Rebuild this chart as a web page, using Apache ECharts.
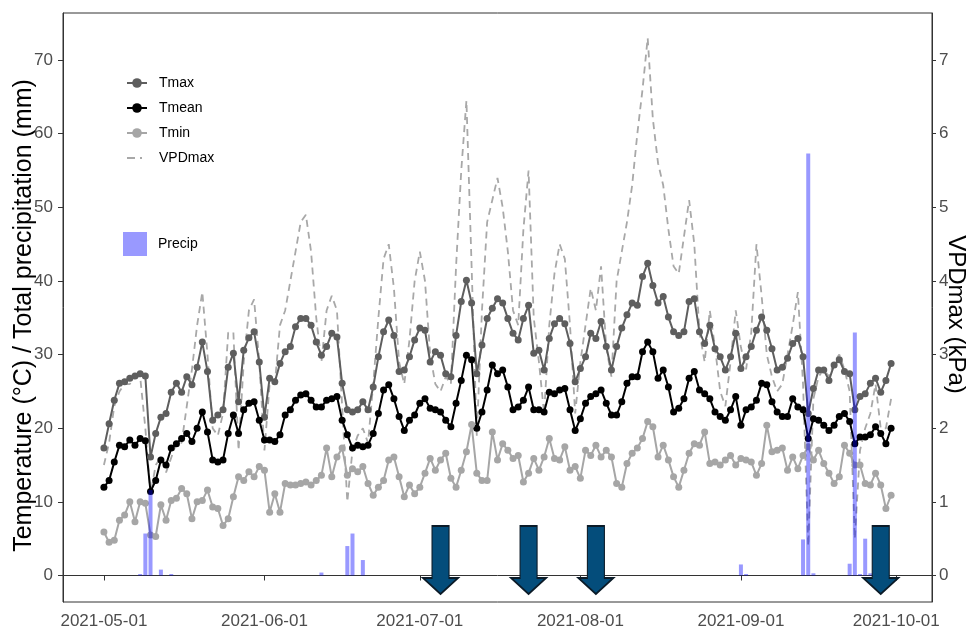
<!DOCTYPE html>
<html lang="en">
<head>
<meta charset="UTF-8">
<title>Temperature, VPDmax and precipitation 2021</title>
<script src="https://cdn.jsdelivr.net/npm/echarts@6/dist/echarts.min.js"></script>
<style>
    html, body { margin: 0; padding: 0; background: #fff; }
    #main { width: 966px; height: 628px; }
</style>
</head>
<body>
<div id="main"></div>
<script>
    // daily values, 2021-05-01 .. 2021-09-30 (153 days)
    var firstDay = '2021-05-01';

    var tmax = [
        17.3, 20.6, 23.8, 26.1, 26.3, 26.8, 27.1, 27.4, 27.1, 16.1,
        19.3, 21.5, 22.0, 24.9, 26.1, 24.9, 27.0, 25.9, 28.3, 31.7,
        27.7, 21.1, 21.8, 22.5, 28.3, 30.2, 23.6, 30.6, 32.3, 33.1,
        29.0, 21.5, 26.8, 26.3, 28.8, 30.4, 31.1, 33.8, 34.9, 34.9,
        34.0, 31.7, 29.9, 31.1, 32.9, 32.4, 26.1, 22.5, 22.2, 22.5,
        23.6, 22.5, 25.6, 29.7, 33.1, 34.7, 32.6, 27.7, 27.9, 29.7,
        32.0, 33.6, 33.3, 29.0, 30.4, 29.9, 27.4, 27.0, 32.6, 37.2,
        40.1, 37.0, 27.4, 31.3, 34.9, 36.3, 37.6, 37.0, 34.9, 32.9,
        32.0, 34.9, 36.7, 30.2, 30.6, 27.9, 32.2, 34.2, 34.9, 34.2,
        31.5, 26.3, 28.1, 29.7, 32.9, 32.2, 34.5, 31.1, 27.9, 31.1,
        33.6, 35.4, 37.0, 36.7, 40.6, 42.4, 39.4, 37.0, 37.9, 35.1,
        33.1, 32.6, 33.1, 37.2, 37.6, 33.1, 31.5, 34.0, 30.8, 29.7,
        27.9, 29.7, 32.9, 28.1, 29.7, 31.1, 33.3, 35.1, 33.3, 30.8,
        27.9, 28.3, 29.5, 31.5, 32.2, 29.7, 22.0, 25.4, 27.9, 27.9,
        26.5, 28.6, 29.3, 27.7, 27.4, 22.5, 24.3, 24.7, 26.1, 26.8,
        24.9, 26.5, 28.8
    ];
    var tmean = [
        12.0, 12.9, 15.4, 17.7, 17.5, 18.4, 17.7, 18.6, 18.3, 11.4,
        12.9, 15.7, 15.0, 17.3, 17.9, 18.6, 19.3, 18.2, 20.0, 22.2,
        19.5, 15.7, 15.4, 15.7, 19.3, 21.8, 19.3, 22.5, 23.4, 23.6,
        21.1, 18.4, 18.4, 18.2, 19.1, 21.8, 22.5, 23.8, 24.5, 24.7,
        23.8, 22.9, 22.9, 23.8, 24.0, 24.3, 21.1, 19.1, 17.3, 17.7,
        17.5, 17.7, 19.3, 22.0, 25.2, 25.9, 24.0, 21.6, 19.7, 21.1,
        21.8, 23.4, 24.0, 22.7, 22.5, 22.2, 21.1, 20.2, 23.4, 26.5,
        29.9, 29.3, 20.0, 22.2, 25.2, 28.6, 27.4, 27.9, 25.6, 22.5,
        22.9, 23.8, 25.6, 22.5, 22.5, 22.2, 24.9, 24.7, 25.2, 25.4,
        22.5, 19.7, 21.3, 23.4, 24.3, 24.7, 25.2, 23.4, 21.8, 21.8,
        23.6, 26.1, 27.0, 27.0, 30.4, 31.7, 30.4, 26.8, 27.9, 25.6,
        22.2, 22.7, 24.0, 26.8, 27.7, 25.2, 24.7, 24.0, 22.2, 21.6,
        21.1, 22.5, 24.3, 20.4, 22.5, 22.9, 23.8, 26.1, 25.9, 23.6,
        22.2, 21.6, 21.6, 24.0, 22.9, 22.5, 18.6, 21.3, 21.1, 20.4,
        19.7, 20.4, 21.6, 22.0, 20.9, 17.9, 18.8, 18.8, 19.1, 20.2,
        19.3, 17.9, 20.0
    ];
    var tmin = [
        5.9, 4.5, 4.8, 7.5, 8.2, 10.0, 7.3, 10.0, 9.8, 5.5,
        5.3, 9.6, 7.5, 10.2, 10.5, 11.8, 11.1, 7.7, 10.0, 10.2,
        11.6, 9.3, 9.1, 6.8, 7.7, 10.7, 13.4, 12.9, 14.1, 13.4,
        14.8, 14.3, 8.6, 11.1, 8.6, 12.5, 12.3, 12.3, 12.5, 12.7,
        12.3, 12.9, 13.6, 17.3, 13.4, 16.1, 17.3, 13.6, 14.5, 14.1,
        14.8, 12.5, 10.9, 12.0, 12.9, 15.7, 16.1, 13.4, 10.7, 12.3,
        11.1, 12.0, 13.9, 15.9, 14.3, 15.7, 16.6, 13.2, 12.0, 14.3,
        16.8, 20.5, 13.9, 12.9, 12.9, 19.5, 15.7, 17.9, 17.0, 15.9,
        16.3, 12.7, 13.9, 15.9, 14.3, 16.1, 18.6, 15.9, 15.7, 17.5,
        14.3, 14.8, 13.2, 17.0, 16.3, 17.7, 16.1, 17.0, 16.1, 12.5,
        12.0, 15.2, 16.6, 17.3, 18.6, 20.9, 20.2, 16.1, 17.7, 15.7,
        13.4, 12.0, 14.3, 16.6, 17.9, 17.7, 19.5, 15.2, 15.4, 15.0,
        15.7, 16.3, 15.0, 15.9, 15.7, 15.4, 13.6, 15.2, 20.4, 16.8,
        17.0, 17.3, 14.3, 16.1, 14.5, 16.3, 17.5, 15.7, 17.0, 15.2,
        13.9, 12.5, 13.4, 17.7, 16.6, 15.0, 15.0, 12.5, 12.3, 13.9,
        12.3, 9.1, 10.9
    ];
    // kPa, right axis
    var vpdmax = [
        1.5, 1.8, 2.3, 2.5, 2.6, 2.6, 2.7, 2.7, 2.0, 1.1,
        1.5, 1.6, 1.4, 1.6, 1.8, 1.8, 2.3, 2.8, 3.4, 3.85,
        3.0, 2.0, 1.9, 2.2, 3.3, 3.3, 1.7, 2.9, 3.6, 3.75,
        2.9, 1.7, 2.6, 2.6, 3.4, 3.6, 4.0, 4.4, 4.8, 4.9,
        4.4, 3.5, 2.9, 3.6, 3.8, 3.6, 2.3, 1.0, 1.7, 1.9,
        2.0, 1.8, 2.6, 3.5, 4.3, 4.5, 3.9, 2.9, 2.6, 3.2,
        4.0, 4.4, 4.0, 3.0, 2.6, 2.5, 2.7, 2.6, 4.2, 5.5,
        6.45, 4.2, 1.9, 3.6, 4.8, 5.1, 5.4, 5.0, 4.4, 3.6,
        3.4, 4.7, 5.5, 3.5, 2.9, 2.2, 3.4, 4.1, 4.5, 4.3,
        3.4, 2.2, 2.9, 3.4, 3.9, 3.6, 4.2, 3.1, 2.7, 4.0,
        4.4, 4.8, 5.3, 6.0, 6.6, 7.3, 6.2, 5.6, 5.3, 4.7,
        4.2, 4.1, 4.6, 5.1, 4.5, 3.3, 2.9, 3.6, 3.1, 2.5,
        2.3, 2.9, 3.6, 3.1, 2.8, 3.3, 4.5, 3.8, 3.0, 2.7,
        2.5, 2.6, 3.0, 3.4, 3.85, 2.6, 0.4, 2.4, 2.7, 2.8,
        2.7, 2.9, 3.0, 2.8, 2.5, 0.5, 1.7, 2.0, 2.2, 2.6,
        2.0, 2.0, 2.4
    ];

    // total precipitation (mm), only the days with rain
    var precipDates = ['2021-05-08', '2021-05-09', '2021-05-10', '2021-05-12', '2021-05-14',
        '2021-06-12', '2021-06-17', '2021-06-18', '2021-06-20',
        '2021-09-01', '2021-09-02', '2021-09-13', '2021-09-14', '2021-09-15',
        '2021-09-22', '2021-09-23', '2021-09-24', '2021-09-25', '2021-09-26'];
    var precipMm = [0.2, 5.7, 11.6, 0.8, 0.2,
        0.4, 4.0, 5.7, 2.1,
        1.5, 0.2, 4.9, 57.3, 0.3,
        1.6, 33.0, 0.2, 5.0, 0.3];

    // sampling days marked with arrows
    var arrowDates = ['2021-07-05', '2021-07-22', '2021-08-04', '2021-09-28'];

    var monthTicks = ['2021-05-01', '2021-06-01', '2021-07-01', '2021-08-01', '2021-09-01', '2021-10-01'];
    var tempTicks = [0, 10, 20, 30, 40, 50, 60, 70];
    var vpdTicks = [0, 1, 2, 3, 4, 5, 6, 7];

    // local-time timestamps, so labels come back as the same calendar day
    function toTime(s) {
        var p = s.split('-');
        return new Date(+p[0], +p[1] - 1, +p[2]).getTime();
    }
    function pad(n) { return n < 10 ? '0' + n : '' + n; }
    function fmtDate(v) {
        var d = new Date(Math.round(v));
        return d.getFullYear() + '-' + pad(d.getMonth() + 1) + '-' + pad(d.getDate());
    }
    var DAY = 86400000;
    var t0 = toTime(firstDay);
    function dayTime(i) {
        var d = new Date(t0);
        return new Date(d.getFullYear(), d.getMonth(), d.getDate() + i).getTime();
    }
    function daily(arr) {
        return arr.map(function (v, i) { return [dayTime(i), v]; });
    }

    var font = 'Liberation Sans, Arial, Helvetica, sans-serif';
    var axisGrey = '#4d4d4d';
    var arrowPath = 'path://M9,0 L26,0 L26,52 L35,52 L17.5,68 L0,52 L9,52 Z';
    // long dash + short dash, padded to the 20x12 legend box
    var dashIcon = 'path://M0,0 L0.01,0 L0,0.01 Z M20,12 L19.99,12 L20,11.99 Z ' +
        'M0,5.1 L8,5.1 L8,6.9 L0,6.9 Z M13,5.1 L15,5.1 L15,6.9 L13,6.9 Z';

    var chart = echarts.init(document.getElementById('main'), null, {renderer: 'canvas'});

    var option = {
        animation: false,
        textStyle: {fontFamily: font},
        grid: {
            left: 63, right: 34, top: 13, bottom: 26,
            show: true, borderColor: '#333', borderWidth: 1,
            backgroundColor: 'transparent',
            outerBoundsMode: 'none'
        },
        legend: [{
            data: ['Tmax', 'Tmean', 'Tmin', {name: 'VPDmax', icon: dashIcon}],
            orient: 'vertical',
            left: 121, top: 71,
            itemWidth: 20, itemHeight: 12, itemGap: 11,
            textStyle: {fontSize: 14, color: '#000', padding: [0, 0, 0, 7], fontFamily: font}
        }, {
            data: [{name: 'Precip', icon: 'rect'}],
            left: 118, top: 227,
            itemWidth: 24, itemHeight: 24,
            textStyle: {fontSize: 14, color: '#000', padding: [0, 0, 0, 6], fontFamily: font}
        }],
        xAxis: {
            // timestamps on a value axis, so month ticks can be placed exactly
            type: 'value',
            min: t0 - 7.9 * DAY,
            max: dayTime(tmax.length - 1) + 7.9 * DAY,
            splitLine: {show: false},
            axisLine: {lineStyle: {color: '#333', width: 1}},
            axisTick: {
                show: true, length: 5,
                customValues: monthTicks.map(toTime),
                lineStyle: {color: '#333'}
            },
            axisLabel: {
                customValues: monthTicks.map(toTime),
                formatter: function (v) { return fmtDate(v); },
                color: axisGrey, fontSize: 17, margin: 11, fontFamily: font
            }
        },
        yAxis: [{
            type: 'value',
            position: 'left',
            min: -3.6, max: 76.4,
            name: 'Temperature (°C) / Total precipitation (mm)',
            nameLocation: 'middle',
            nameGap: 26,
            nameMoveOverlap: false,
            nameTextStyle: {fontSize: 25, color: '#000', fontFamily: font, padding: [0, 16, 0, 0]},
            splitLine: {show: false},
            axisLine: {show: true, lineStyle: {color: '#333'}},
            axisTick: {show: true, length: 5, customValues: tempTicks, lineStyle: {color: '#333'}},
            axisLabel: {customValues: tempTicks, color: axisGrey, fontSize: 17, margin: 10, fontFamily: font}
        }, {
            type: 'value',
            position: 'right',
            min: -0.36, max: 7.64,
            name: 'VPDmax (kPa)',
            nameLocation: 'middle',
            nameRotate: -90,
            nameGap: 12,
            nameMoveOverlap: false,
            nameTextStyle: {fontSize: 24, color: '#000', fontFamily: font, padding: [0, 0, 0, 14]},
            splitLine: {show: false},
            axisLine: {show: true, lineStyle: {color: '#333'}},
            axisTick: {show: true, length: 4, customValues: vpdTicks, lineStyle: {color: '#333'}},
            axisLabel: {customValues: vpdTicks, color: axisGrey, fontSize: 17, margin: 7, fontFamily: font}
        }],
        series: [{
            name: 'VPDmax',
            type: 'line',
            yAxisIndex: 1,
            data: daily(vpdmax),
            symbol: 'none',
            color: '#a8a8a8',
            lineStyle: {color: '#a8a8a8', width: 1.8, type: [7, 5]},
            z: 2
        }, {
            name: 'Tmax',
            type: 'line',
            data: daily(tmax),
            symbol: 'circle', symbolSize: 7,
            color: '#5e5e5e',
            lineStyle: {width: 2},
            z: 3
        }, {
            name: 'Tmean',
            type: 'line',
            data: daily(tmean),
            symbol: 'circle', symbolSize: 7,
            color: '#000000',
            lineStyle: {width: 2},
            z: 3
        }, {
            name: 'Tmin',
            type: 'line',
            data: daily(tmin),
            symbol: 'circle', symbolSize: 7,
            color: '#a6a6a6',
            lineStyle: {width: 2},
            z: 3
        }, {
            name: 'Precip',
            type: 'bar',
            data: precipDates.map(function (d, i) { return [toTime(d), precipMm[i]]; }),
            barWidth: 4,
            itemStyle: {color: 'rgba(0,0,255,0.4)'},
            z: 4
        }, {
            name: 'arrows',
            type: 'scatter',
            silent: true,
            data: arrowDates.map(function (d) { return [toTime(d), 2.1]; }),
            symbol: arrowPath,
            symbolSize: [35, 68],
            itemStyle: {color: '#044d7b', borderColor: '#0b1b28', borderWidth: 1.5, opacity: 1},
            z: 5
        }]
    };
    chart.setOption(option);
</script>
</body>
</html>
